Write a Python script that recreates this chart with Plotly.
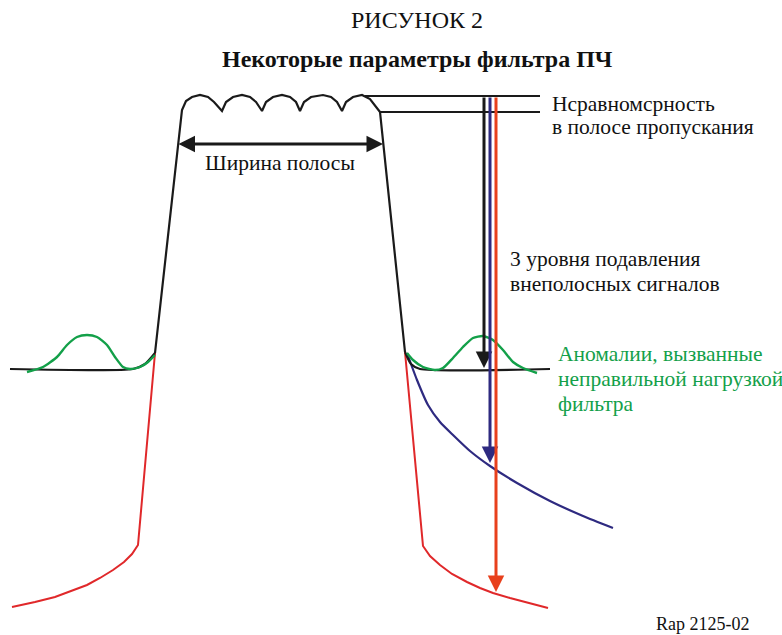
import plotly.graph_objects as go

W, H = 782, 635
SERIF = "'Liberation Serif', 'Times New Roman', 'DejaVu Serif', serif"

# ---- curve data (diagram coordinates, y grows downward) ----
passband_x = [155, 182, 186, 192, 200, 208, 214, 222, 226, 233, 242, 250, 256, 262,
              266, 273, 282, 290, 296, 300, 304, 311, 323, 331, 337, 342,
              346, 353, 362, 370, 380, 405]
passband_y = [353, 110, 101, 97, 95, 97, 102, 111, 102, 97, 95, 97, 102, 111,
              102, 97, 95, 97, 102, 111, 102, 97, 95, 97, 102, 111,
              102, 97, 95, 99, 112, 352]

left_base_x = [10, 133, 145, 155]
left_base_y = [369, 369, 364, 353]
right_base_x = [405, 411, 420, 550]
right_base_y = [352, 364, 369, 369]

green_left_x = [27, 43, 57, 67, 77, 87, 97, 107, 115, 123, 130, 140, 148, 155]
green_left_y = [372, 367, 357, 345, 337, 335, 337, 345, 357, 367, 369, 367, 362, 355]
green_right_x = [407, 413, 423, 435, 443, 453, 463, 473, 483, 493, 503, 513, 523, 537]
green_right_y = [353, 360, 367, 370, 368, 358, 347, 338, 336, 340, 350, 362, 368, 373]

red_left_x = [155, 138, 132, 124, 113, 100, 87, 72, 55, 35, 12]
red_left_y = [353, 545, 554, 562, 570, 578, 585, 591, 597, 602, 607]
red_right_x = [405, 423, 430, 440, 452, 467, 480, 493, 510, 528, 548]
red_right_y = [352, 546, 556, 565, 574, 582, 588, 593, 598, 603, 608]

blue_x = [407, 417, 428, 440, 453, 470, 490, 517, 550, 583, 613]
blue_y = [353, 380, 405, 422, 435, 451, 466, 483, 501, 516, 528]

ripple_lines_x = [[365, 540], [380, 540]]
ripple_lines_y = [[96, 96], [112, 112]]

# suppression arrows: x, top y, tip y, colour
arrow_x = [484, 490, 496]
arrow_top = [96, 96, 96]
arrow_tip = [368, 463, 592]
arrow_col = ["#1a1a1a", "#2e2a80", "#e8401c"]

width_arrow_x = [177, 383]
width_arrow_y = 144

BLACK = "#1a1a1a"
GREEN = "#13a049"
RED = "#e0282a"
BLUE = "#2e2a80"

fig = go.Figure()

def line(x, y, color, width, shape="spline"):
    fig.add_trace(go.Scatter(x=x, y=y, mode="lines",
                             line=dict(color=color, width=width, shape=shape, smoothing=0.6),
                             hoverinfo="skip", showlegend=False))

line(red_left_x, red_left_y, RED, 2, "linear")
line(red_right_x, red_right_y, RED, 2, "linear")
line(blue_x, blue_y, BLUE, 2.2)
line(left_base_x, left_base_y, BLACK, 2.2)
line(right_base_x, right_base_y, BLACK, 2.2)
line(passband_x, passband_y, BLACK, 2.2, "linear")
for xs, ys in zip(ripple_lines_x, ripple_lines_y):
    line(xs, ys, BLACK, 2.2, "linear")
line(green_left_x, green_left_y, GREEN, 2.4)
line(green_right_x, green_right_y, GREEN, 2.4)

annotations = []
for x, t, tip, c in zip(arrow_x, arrow_top, arrow_tip, arrow_col):
    annotations.append(dict(x=x, y=tip, ax=x, ay=t, xref="x", yref="y", axref="x", ayref="y",
                            showarrow=True, arrowhead=2, arrowsize=1.1, arrowwidth=3,
                            arrowcolor=c, text=""))
annotations.append(dict(x=width_arrow_x[1], y=width_arrow_y, ax=width_arrow_x[0], ay=width_arrow_y,
                        xref="x", yref="y", axref="x", ayref="y", showarrow=True,
                        arrowhead=2, startarrowhead=2, arrowside="end+start",
                        arrowsize=1.1, startarrowsize=1.1, arrowwidth=3, arrowcolor=BLACK, text=""))

def text(x, y, s, size=21.5, color="#111", anchor="left", bold=False):
    if bold:
        s = "<b>" + s + "</b>"
    annotations.append(dict(x=x, y=y, xref="x", yref="y", text=s, showarrow=False,
                            xanchor=anchor, yanchor="middle",
                            font=dict(family=SERIF, size=size, color=color)))

text(417, 20, "РИСУНОК 2", 24, anchor="center")
text(417, 59, "Некоторые параметры фильтра ПЧ", 24, anchor="center", bold=True)
text(280, 163, "Ширина полосы", anchor="center")
text(550, 104, "Нсравномсрность")
text(550, 127, "в полосе пропускания")
text(508, 259, "3 уровня подавления")
text(508, 284, "внеполосных сигналов")
text(556, 354, "Аномалии, вызванные", color=GREEN)
text(556, 379, "неправильной нагрузкой", color=GREEN)
text(556, 404, "фильтра", color=GREEN)
text(654, 624, "Rap 2125-02", 18)

fig.update_layout(
    width=W, height=H, margin=dict(l=0, r=0, t=0, b=0),
    paper_bgcolor="white", plot_bgcolor="white",
    xaxis=dict(range=[0, W], visible=False, fixedrange=True),
    yaxis=dict(range=[H, 0], visible=False, fixedrange=True),
    annotations=annotations, showlegend=False,
)

fig.write_html("out.html", config={"displayModeBar": False},
               post_script="document.body.style.margin='0';")
